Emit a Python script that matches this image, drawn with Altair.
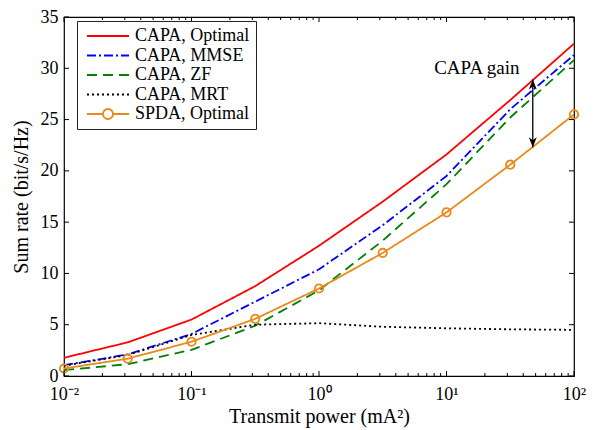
import altair as alt
import pandas as pd

# ---------------- data ----------------
power = [0.01, 0.0316, 0.1, 0.316, 1, 3.16, 10, 31.6, 100]
capa_optimal = [1.78, 3.28, 5.5, 8.76, 12.7, 17.0, 21.6, 26.9, 32.4]
capa_mmse = [1.05, 2.1, 4.1, 7.25, 10.4, 14.7, 19.5, 26.0, 31.3]
capa_zf = [0.57, 1.15, 2.55, 4.9, 8.35, 13.2, 18.7, 25.2, 30.8]
capa_mrt = [1.0, 2.05, 4.0, 5.0, 5.15, 4.8, 4.65, 4.55, 4.5]
spda_optimal = [0.73, 1.69, 3.34, 5.57, 8.53, 12.0, 15.95, 20.6, 25.5]

series_names = ["CAPA, Optimal", "CAPA, MMSE", "CAPA, ZF", "CAPA, MRT", "SPDA, Optimal"]
series_values = [capa_optimal, capa_mmse, capa_zf, capa_mrt, spda_optimal]
series_colors = ["#ff0000", "#0000ff", "#008000", "#000000", "#e8891c"]
series_dashes = [[1, 0], [9, 3, 2, 3], [10, 6], [2, 3], [1, 0]]
legend_shapes = [
    "M-4.2,0L4.2,0",
    "M-4.2,0L4.2,0",
    "M-4.2,0L4.2,0",
    "M-4.2,0L4.2,0",
    "M-4.2,0L-1,0M1,0L4.2,0M1,0A1,1 0 1,1 -1,0A1,1 0 1,1 1,0",
]

x_major_ticks = [0.01, 0.1, 1, 10, 100]
x_minor_ticks = [k * 10.0 ** e for e in range(-2, 2) for k in range(2, 10)]
y_major_ticks = [0, 5, 10, 15, 20, 25, 30, 35]
x_tick_labels = ["10⁻²", "10⁻¹", "10⁰", "10¹", "10²"]

gain_text = ["CAPA gain"]
gain_text_x = [17.3]
gain_text_y = [30.0]
arrow_x = [47.5]
arrow_top = [28.9]
arrow_bottom = [22.3]

# ---------------- tables ----------------
rows = []
for name, vals in zip(series_names, series_values):
    for p, v in zip(power, vals):
        rows.append({"series": name, "power": p, "rate": v})
df = pd.DataFrame(rows)
spda_df = df[df["series"] == "SPDA, Optimal"]

W, H = 510, 359
FONT = "Liberation Serif"

xs = alt.Scale(type="log", domain=[0.01, 100], nice=False)
ys = alt.Scale(domain=[0, 35], nice=False, zero=False)

label_expr = " : ".join(
    f"datum.value == {v} ? '{t}'" for v, t in zip(x_major_ticks, x_tick_labels)
) + " : ''"

x_axis = alt.Axis(values=x_major_ticks, labelExpr=label_expr, ticks=False, domain=False,
                  grid=False, labelFont=FONT, labelFontSize=18, labelPadding=9,
                  labelColor="black", labelFlush=False,
                  title="Transmit power (mA²)", titleFont=FONT, titleFontSize=20,
                  titleFontWeight="normal", titleColor="black", titlePadding=3)
y_axis = alt.Axis(values=y_major_ticks, ticks=False, domain=False, grid=False,
                  labelFont=FONT, labelFontSize=18, labelPadding=6, labelColor="black",
                  title="Sum rate (bit/s/Hz)", titleFont=FONT, titleFontSize=20,
                  titleFontWeight="normal", titleColor="black", titlePadding=9)

legend = alt.Legend(title=None, orient="none", legendX=13, legendY=4,
                    symbolSize=100, symbolStrokeWidth=1.8, symbolOffset=16,
                    labelOffset=18, labelFont=FONT, labelFontSize=18, labelColor="black",
                    strokeColor="#222222", fillColor="white", padding=6, rowPadding=1.5,
                    symbolOpacity=1, symbolFillColor="transparent", cornerRadius=0)

color_enc = alt.Color("series:N", scale=alt.Scale(domain=series_names, range=series_colors),
                      legend=legend)
dash_enc = alt.StrokeDash("series:N", scale=alt.Scale(domain=series_names, range=series_dashes),
                          legend=legend)
shape_enc = alt.Shape("series:N", scale=alt.Scale(domain=series_names, range=legend_shapes),
                      legend=legend)

x_enc = alt.X("power:Q", scale=xs, axis=x_axis)
y_enc = alt.Y("rate:Q", scale=ys, axis=y_axis)

lines = alt.Chart(df).mark_line(strokeWidth=1.8, clip=True).encode(
    x=x_enc, y=y_enc, color=color_enc, strokeDash=dash_enc,
    order=alt.Order("power:Q"))

markers = alt.Chart(spda_df).mark_point(shape="circle", size=70, filled=False,
                                        strokeWidth=1.8, opacity=1,
                                        color=series_colors[4]).encode(
    x=alt.X("power:Q", scale=xs), y=alt.Y("rate:Q", scale=ys))

legend_layer = alt.Chart(df).mark_point(filled=False, opacity=1, strokeWidth=1.8).encode(
    x=alt.X("power:Q", scale=xs), y=alt.Y("rate:Q", scale=ys),
    color=color_enc, strokeDash=dash_enc, shape=shape_enc
).transform_filter("false")

# inward ticks
xmaj = pd.DataFrame({"v": x_major_ticks})
xmin = pd.DataFrame({"v": x_minor_ticks})
ymaj = pd.DataFrame({"v": y_major_ticks})
tick_layers = [
    alt.Chart(xmaj).mark_rule(color="black").encode(
        x=alt.X("v:Q", scale=xs), y=alt.value(H), y2=alt.value(H - 5)),
    alt.Chart(xmaj).mark_rule(color="black").encode(
        x=alt.X("v:Q", scale=xs), y=alt.value(0), y2=alt.value(5)),
    alt.Chart(xmin).mark_rule(color="black").encode(
        x=alt.X("v:Q", scale=xs), y=alt.value(H), y2=alt.value(H - 3)),
    alt.Chart(xmin).mark_rule(color="black").encode(
        x=alt.X("v:Q", scale=xs), y=alt.value(0), y2=alt.value(3)),
    alt.Chart(ymaj).mark_rule(color="black").encode(
        y=alt.Y("v:Q", scale=ys), x=alt.value(0), x2=alt.value(5)),
    alt.Chart(ymaj).mark_rule(color="black").encode(
        y=alt.Y("v:Q", scale=ys), x=alt.value(W), x2=alt.value(W - 5)),
]

ann_df = pd.DataFrame({"t": gain_text, "x": gain_text_x, "y": gain_text_y})
text = alt.Chart(ann_df).mark_text(font=FONT, fontSize=19, color="black",
                                   baseline="middle", align="center").encode(
    x=alt.X("x:Q", scale=xs), y=alt.Y("y:Q", scale=ys), text="t:N")

arr_df = pd.DataFrame({"x": arrow_x, "top": arrow_top, "bottom": arrow_bottom})
arrow_rule = alt.Chart(arr_df).mark_rule(color="black", strokeWidth=1.3).encode(
    x=alt.X("x:Q", scale=xs), y=alt.Y("top:Q", scale=ys), y2="bottom:Q")
head_up = alt.Chart(arr_df).mark_point(
    shape="M0,0L-0.8,2L0,1.4L0.8,2Z", size=100, filled=True, color="black", opacity=1
).encode(x=alt.X("x:Q", scale=xs), y=alt.Y("top:Q", scale=ys))
head_down = alt.Chart(arr_df).mark_point(
    shape="M0,0L-0.8,-2L0,-1.4L0.8,-2Z", size=100, filled=True, color="black", opacity=1
).encode(x=alt.X("x:Q", scale=xs), y=alt.Y("bottom:Q", scale=ys))

chart = alt.layer(
    lines, markers, legend_layer, *tick_layers, text, arrow_rule, head_up, head_down
).properties(
    width=W, height=H,
    autosize=alt.AutoSizeParams(type="none"),
    padding={"left": 56, "top": 9, "right": 20, "bottom": 54},
    background="white",
).configure_view(stroke="black", strokeWidth=1.2)

chart.save("out.html", embed_options={"renderer": "svg", "actions": False})
